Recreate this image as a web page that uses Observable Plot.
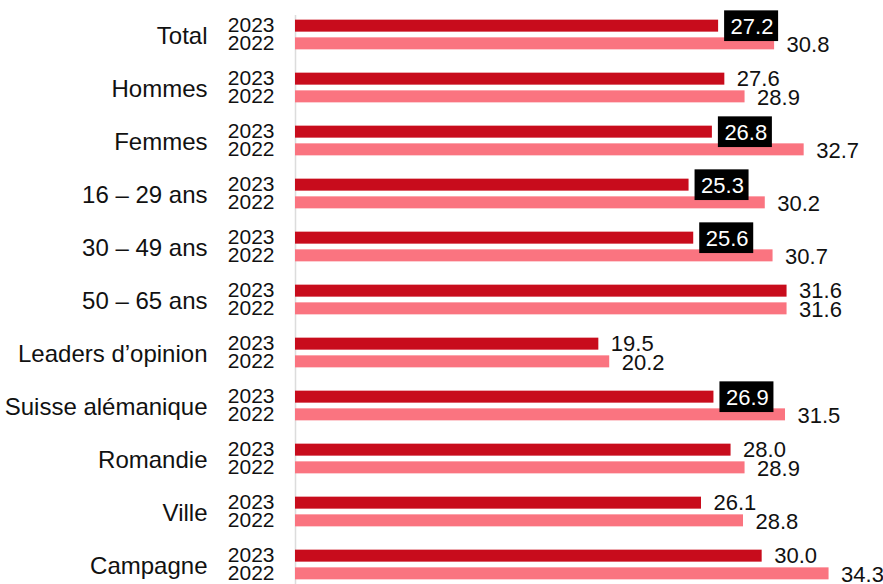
<!DOCTYPE html>
<html><head><meta charset="utf-8">
<script src="https://cdn.jsdelivr.net/npm/d3@7"></script>
<script src="https://cdn.jsdelivr.net/npm/@observablehq/plot@0.6"></script>
<style>html,body{margin:0;padding:0;background:#fff} svg{display:block}</style>
</head><body><div id="chart"></div>
<script>
const categories = ["Total","Hommes","Femmes","16 – 29 ans","30 – 49 ans","50 – 65 ans","Leaders d’opinion","Suisse alémanique","Romandie","Ville","Campagne"];
const values2023 = [27.2,27.6,26.8,25.3,25.6,31.6,19.5,26.9,28.0,26.1,30.0];
const values2022 = [30.8,28.9,32.7,30.2,30.7,31.6,20.2,31.5,28.9,28.8,34.3];
const highlighted2023 = [true,false,true,true,true,false,false,true,false,false,false];
const yearLabels = ["2023","2022"];

const rows = categories.map((c,i)=>({category:c, v2023:values2023[i], v2022:values2022[i], hi:highlighted2023[i]}));

const step = 53.3, firstCenter = 33.3, half = step/2;
const yRange = [firstCenter - half, firstCenter - half + step*categories.length];
const dark = "#c80c1c", light = "#fa7480";
const ff = "Liberation Sans, Arial, Helvetica, sans-serif";

const chart = Plot.plot({
  width: 883, height: 584,
  marginLeft: 295, marginRight: 0, marginTop: 15, marginBottom: 0,
  x: {domain: [0, 37.8], axis: null},
  y: {domain: categories, range: yRange, padding: 0, axis: null},
  style: {fontFamily: ff, background: "white", color: "#111"},
  marks: [
    Plot.ruleX([0], {stroke: "#dcdcdc", strokeWidth: 1.5}),
    Plot.barX(rows, {x: "v2023", y: "category", fill: dark, insetTop: half-15, insetBottom: half+2.7}),
    Plot.barX(rows, {x: "v2022", y: "category", fill: light, insetTop: half+2.7, insetBottom: half-15}),
    Plot.barX(rows.filter(d=>d.hi), {x1: "v2023", x2: "v2023", y: "category", fill: "#000", insetLeft: 6, insetRight: -60, insetTop: half-24.3, insetBottom: half-6.7}),
    Plot.text(rows.filter(d=>!d.hi), {x: "v2023", y: "category", text: d=>d.v2023.toFixed(1), dx: 12, dy: -9, textAnchor: "start", fontSize: 22, fill: "#111"}),
    Plot.text(rows.filter(d=>d.hi), {x: "v2023", y: "category", text: d=>d.v2023.toFixed(1), dx: 12, dy: -8, textAnchor: "start", fontSize: 22, fill: "#fff"}),
    Plot.text(rows, {x: "v2022", y: "category", text: d=>d.v2022.toFixed(1), dx: 12, dy: 10, textAnchor: "start", fontSize: 22, fill: "#111"}),
    Plot.text(rows, {y: "category", text: () => yearLabels[0], frameAnchor: "left", dx: -21, dy: -9.5, textAnchor: "end", fontSize: 21, fill: "#111"}),
    Plot.text(rows, {y: "category", text: () => yearLabels[1], frameAnchor: "left", dx: -21, dy: 8.5, textAnchor: "end", fontSize: 21, fill: "#111"}),
    Plot.text(rows, {y: "category", text: "category", frameAnchor: "left", dx: -88, dy: 1, textAnchor: "end", fontSize: 24, fill: "#111"})
  ]
});
document.getElementById("chart").append(chart);
</script>
</body></html>
